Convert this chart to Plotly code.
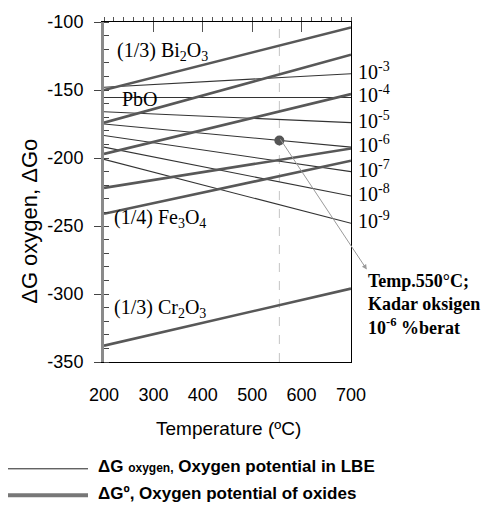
import numpy as np
import plotly.graph_objects as go

# ---------------- data ----------------
temperature_ends = [200, 700]          # ºC

# Oxygen potential in LBE (thin lines), kJ, for dissolved O (wt%)
conc_labels = ["10<sup>-3</sup>", "10<sup>-4</sup>", "10<sup>-5</sup>", "10<sup>-6</sup>",
               "10<sup>-7</sup>", "10<sup>-8</sup>", "10<sup>-9</sup>"]
lbe_dg_200 = [-148, -155.5, -166, -175, -183.5, -192, -201]
lbe_dg_700 = [-138, -155.5, -174, -192, -210, -228, -248]

# Standard free energy of oxide formation (thick lines)
oxide_names = ["(1/3) Bi<sub>2</sub>O<sub>3</sub>", "PbO", "", "",
               "(1/4) Fe<sub>3</sub>O<sub>4</sub>", "(1/3) Cr<sub>2</sub>O<sub>3</sub>"]
oxide_dg_200 = [-150, -174, -197, -222, -241, -338]
oxide_dg_700 = [-104, -124, -153, -193, -202, -296]

# label anchor points (temperature, dG) for the oxide names
oxide_label_t = [223, 233, None, None, 217, 217]
oxide_label_g = [-124.5, -159.5, None, None, -247.5, -313.5]

# axis ticks
y_tick_vals = [-350, -300, -250, -200, -150, -100]
y_tick_text = ["-350", "-300", "-250", "-200", "-150", "-100"]
x_tick_vals = [200, 300, 400, 500, 600, 700]

marker_temp = 555          # highlighted temperature
marker_conc_index = 3      # 10^-6 line
arrow_head_t, arrow_head_g = 732, -282

x_range = [200, 700]
y_range = [-350, -100]

PLOT_W = 481 - 104 - 130
PLOT_H = 513 - 15 - 151

THIN = "#333333"
THICK = "#585858"

fig = go.Figure()

# vertical dashed line at the highlighted temperature
fig.add_trace(go.Scatter(x=[marker_temp, marker_temp], y=y_range, mode="lines",
                         line=dict(color="#c4c4c4", width=1, dash="dash"),
                         showlegend=False, hoverinfo="skip"))

for g0, g1 in zip(lbe_dg_200, lbe_dg_700):
    fig.add_trace(go.Scatter(x=temperature_ends, y=[g0, g1], mode="lines",
                             line=dict(color=THIN, width=1.1), showlegend=False))

for g0, g1 in zip(oxide_dg_200, oxide_dg_700):
    fig.add_trace(go.Scatter(x=temperature_ends, y=[g0, g1], mode="lines",
                             line=dict(color=THICK, width=2.6), showlegend=False))

# highlighted point on the 10^-6 line
marker_g = float(np.interp(marker_temp, temperature_ends,
                           [lbe_dg_200[marker_conc_index], lbe_dg_700[marker_conc_index]]))
fig.add_trace(go.Scatter(x=[marker_temp], y=[marker_g], mode="markers",
                         marker=dict(color="#555555", size=10), showlegend=False))

# hidden traces for the secondary (frame) axes
fig.add_trace(go.Scatter(x=[None], y=[None], xaxis="x2", yaxis="y2", showlegend=False))
fig.add_trace(go.Scatter(x=[None], y=[None], xaxis="x3", yaxis="y2", showlegend=False))


def to_dom_x(t):
    return (t - x_range[0]) / (x_range[1] - x_range[0])


def to_dom_y(g):
    return (g - y_range[0]) / (y_range[1] - y_range[0])


annotations = []
# right-hand concentration labels
for lab, g in zip(conc_labels, lbe_dg_700):
    annotations.append(dict(x=700, y=g, xref="x", yref="y", text=lab, showarrow=False,
                            xanchor="left", yanchor="middle", xshift=5, yshift=3,
                            font=dict(family="Liberation Serif", size=20, color="black")))
# oxide labels
for name, t, g in zip(oxide_names, oxide_label_t, oxide_label_g):
    if name:
        annotations.append(dict(x=t, y=g, xref="x", yref="y", text=name, showarrow=False,
                                xanchor="left", yanchor="middle", yshift=4,
                                font=dict(family="Liberation Serif", size=20, color="black")))
# arrow from point to the note (paper refs so the arrow is not clipped at the frame)
head_x, head_y = to_dom_x(arrow_head_t), to_dom_y(arrow_head_g)
tail_x, tail_y = to_dom_x(marker_temp), to_dom_y(marker_g)
annotations.append(dict(x=head_x, y=head_y, xref="paper", yref="paper",
                        ax=(tail_x - head_x) * PLOT_W, ay=-(tail_y - head_y) * PLOT_H,
                        axref="pixel", ayref="pixel",
                        text="", showarrow=True, arrowhead=2, arrowsize=1,
                        arrowwidth=1, arrowcolor="#9a9a9a"))
# note text
annotations.append(dict(x=1.061, y=0.170, xref="paper", yref="paper",
                        text="<b>Temp.550°C;<br>Kadar oksigen<br>10<sup>-6</sup> %berat</b>",
                        showarrow=False, xanchor="left", yanchor="middle", align="left",
                        font=dict(family="Liberation Serif", size=18, color="black")))
# axis titles
annotations.append(dict(x=-0.30, y=0.415, xref="paper", yref="paper",
                        text="ΔG oxygen, ΔGo", textangle=-90, showarrow=False,
                        xanchor="center", yanchor="middle",
                        font=dict(family="Liberation Sans", size=22, color="black")))
annotations.append(dict(x=0.506, y=-0.196, xref="paper", yref="paper",
                        text="Temperature (ºC)", showarrow=False,
                        xanchor="center", yanchor="middle",
                        font=dict(family="Liberation Sans", size=19, color="black")))
# legend texts
annotations.append(dict(x=(96 - 104) / 247, y=(362 - 469) / 347, xref="paper", yref="paper",
                        text="<b>ΔG <span style='font-size:12px'>oxygen,</span> Oxygen potential in LBE</b>",
                        showarrow=False, xanchor="left", yanchor="middle",
                        font=dict(family="Liberation Sans", size=17, color="black")))
annotations.append(dict(x=(96 - 104) / 247, y=(362 - 496) / 347, xref="paper", yref="paper",
                        text="<b>ΔGº, Oxygen potential of oxides</b>",
                        showarrow=False, xanchor="left", yanchor="middle",
                        font=dict(family="Liberation Sans", size=17, color="black")))

shapes = [
    dict(type="line", xref="paper", yref="paper",
         x0=(8 - 104) / 247, x1=(88 - 104) / 247,
         y0=(362 - 471) / 347, y1=(362 - 471) / 347,
         line=dict(color="#222222", width=1)),
    dict(type="line", xref="paper", yref="paper",
         x0=(8 - 104) / 247, x1=(88 - 104) / 247,
         y0=(362 - 498) / 347, y1=(362 - 498) / 347,
         line=dict(color="#777777", width=4)),
]

fig.update_layout(
    width=481, height=513,
    margin=dict(l=104, r=130, t=15, b=151),
    plot_bgcolor="white", paper_bgcolor="white",
    showlegend=False,
    font=dict(family="Liberation Sans", size=18, color="black"),
    xaxis=dict(range=x_range, tickvals=x_tick_vals, showgrid=False, zeroline=False,
               showline=True, linecolor="black", linewidth=1, ticks="",
               ticklabelstandoff=16, tickfont=dict(size=18)),
    yaxis=dict(range=y_range, tickvals=y_tick_vals, ticktext=y_tick_text,
               showgrid=False, zeroline=False,
               showline=True, linecolor="#8a8a8a", linewidth=3,
               ticks="outside", ticklen=7, tickcolor="#444444", tickwidth=1,
               minor=dict(ticks="inside", ticklen=5, dtick=10, tickcolor="#444444"),
               ticklabelstandoff=7, tickfont=dict(size=18)),
    xaxis2=dict(range=x_range, overlaying="x", side="top", anchor="y2",
                showgrid=False, zeroline=False, showline=True, linecolor="black",
                linewidth=1, ticks="inside", ticklen=10, tickvals=x_tick_vals,
                tickcolor="#555555", showticklabels=False),
    xaxis3=dict(range=x_range, overlaying="x", side="top", anchor="y2",
                showgrid=False, zeroline=False, showline=False,
                ticks="outside", ticklen=4, tick0=200, dtick=20,
                tickcolor="#555555", showticklabels=False),
    yaxis2=dict(range=y_range, overlaying="y", side="right", anchor="x2",
                showgrid=False, zeroline=False, showline=True, linecolor="black",
                linewidth=1, ticks="", showticklabels=False),
    annotations=annotations,
    shapes=shapes,
)

fig.write_html("out.html")
